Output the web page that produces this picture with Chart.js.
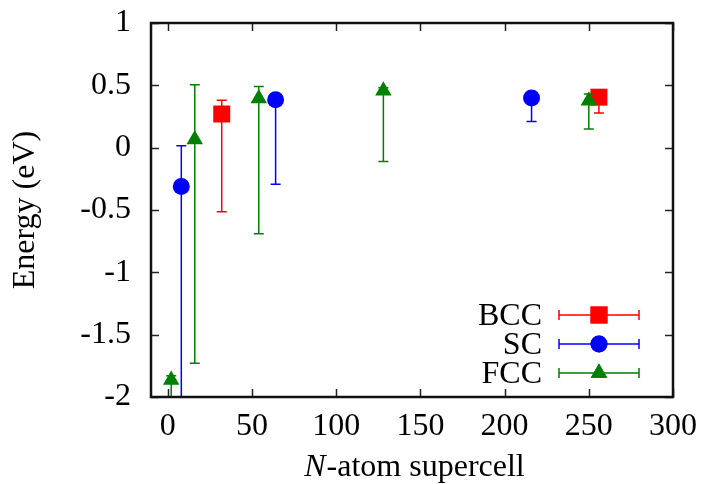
<!DOCTYPE html>
<html>
<head>
<meta charset="utf-8">
<script src="https://cdn.jsdelivr.net/npm/chart.js@4.4.1/dist/chart.umd.min.js"></script>
<style>
html,body{margin:0;padding:0;background:#fff;}
#c{display:block;}
</style>
</head>
<body>
<canvas id="c" width="703" height="484"></canvas>
<script>
// ---- data ----
const seriesNames = ["BCC", "SC", "FCC"];

const bccN    = [32, 256];
const bccE    = [0.27, 0.405];
const bccLow  = [-0.514, 0.278];
const bccHigh = [0.38, 0.43];

const scN    = [8, 64, 216];
const scE    = [-0.312, 0.384, 0.398];
const scLow  = [-2.3, -0.294, 0.21];
const scHigh = [0.016, 0.42, 0.42];

const fccN    = [2, 16, 54, 128, 250];
const fccE    = [-1.864, 0.066, 0.395, 0.457, 0.377];
const fccLow  = [-2.3, -1.73, -0.69, -0.11, 0.15];
const fccHigh = [-1.83, 0.504, 0.49, 0.48, 0.43];

const xTicks = [0, 50, 100, 150, 200, 250, 300];
const yTicks = [-2, -1.5, -1, -0.5, 0, 0.5, 1];
const xTitleItalic = "N";
const xTitleRest = "-atom supercell";
const yTitle = "Energy (eV)";

// ---- styling ----
const FONT = "'Liberation Serif', 'DejaVu Serif', serif";
const colors = { BCC: "#ff0000", SC: "#0000ff", FCC: "#008000" };
const styles = { BCC: "rect", SC: "circle", FCC: "triangle" };
const radii  = { BCC: 12, SC: 8.5, FCC: 9.5 };

function mk(name, xs, ys, lo, hi, order) {
  return {
    label: name,
    data: xs.map((x, i) => ({ x: x, y: ys[i], lo: lo[i], hi: hi[i] })),
    pointStyle: styles[name],
    pointRadius: radii[name],
    pointHoverRadius: radii[name],
    backgroundColor: colors[name],
    borderColor: colors[name],
    borderWidth: 0,
    showLine: false,
    order: order
  };
}

const errorBars = {
  id: "errorBars",
  beforeDatasetDraw(chart, args) {
    const ds = chart.data.datasets[args.index];
    const xs = chart.scales.x, ys = chart.scales.y, a = chart.chartArea;
    const ctx = chart.ctx;
    ctx.save();
    ctx.beginPath();
    ctx.rect(a.left, a.top, a.right - a.left, a.bottom - a.top);
    ctx.clip();
    ctx.strokeStyle = ds.borderColor;
    ctx.lineWidth = 1.5;
    ds.data.forEach(p => {
      const px = xs.getPixelForValue(p.x);
      const plo = ys.getPixelForValue(p.lo);
      const phi = ys.getPixelForValue(p.hi);
      ctx.beginPath();
      ctx.moveTo(px, plo); ctx.lineTo(px, phi);
      ctx.moveTo(px - 5, plo); ctx.lineTo(px + 5, plo);
      ctx.moveTo(px - 5, phi); ctx.lineTo(px + 5, phi);
      ctx.stroke();
    });
    ctx.restore();
  }
};

const frame = {
  id: "frame",
  afterDatasetsDraw(chart) {
    const ctx = chart.ctx, a = chart.chartArea;
    const xs = chart.scales.x, ys = chart.scales.y;
    ctx.save();
    ctx.strokeStyle = "#222";
    ctx.lineWidth = 1.5;
    const tl = 8;
    ctx.beginPath();
    xTicks.forEach(v => {
      const px = Math.round(xs.getPixelForValue(v)) + 0.5;
      ctx.moveTo(px, a.bottom); ctx.lineTo(px, a.bottom - tl);
      ctx.moveTo(px, a.top); ctx.lineTo(px, a.top + tl);
    });
    yTicks.forEach(v => {
      const py = Math.round(ys.getPixelForValue(v)) + 0.5;
      ctx.moveTo(a.left, py); ctx.lineTo(a.left + tl, py);
      ctx.moveTo(a.right, py); ctx.lineTo(a.right - tl, py);
    });
    ctx.stroke();
    ctx.strokeStyle = "#111";
    ctx.lineWidth = 2.5;
    ctx.strokeRect(a.left, a.top, a.right - a.left, a.bottom - a.top);
    ctx.restore();
  },
  afterDraw(chart) {
    const ctx = chart.ctx, a = chart.chartArea;
    // x-axis title with italic N
    ctx.save();
    ctx.fillStyle = "#000";
    ctx.textBaseline = "alphabetic";
    ctx.textAlign = "left";
    const fi = "italic 32px " + FONT, fr = "32px " + FONT;
    ctx.font = fi; const w1 = ctx.measureText(xTitleItalic).width;
    ctx.font = fr; const w2 = ctx.measureText(xTitleRest).width;
    const cx = (a.left + a.right) / 2 + 2;
    const sx = cx - (w1 + w2) / 2;
    ctx.font = fi; ctx.fillText(xTitleItalic, sx, a.bottom + 79);
    ctx.font = fr; ctx.fillText(xTitleRest, sx + w1 + 1, a.bottom + 79);
    ctx.restore();

    // legend, inside the plot at lower right
    const textX = a.right - 131;
    const x0 = a.right - 114, x1 = a.right - 34, xm = (x0 + x1) / 2;
    const rowY = [a.bottom - 82, a.bottom - 53, a.bottom - 24];
    ctx.save();
    seriesNames.forEach((name, i) => {
      const y = rowY[i];
      ctx.fillStyle = "#000";
      ctx.font = "32px " + FONT;
      ctx.textAlign = "right";
      ctx.textBaseline = "middle";
      ctx.fillText(name, textX, y + 2);
      ctx.strokeStyle = colors[name];
      ctx.lineWidth = 1.5;
      ctx.beginPath();
      ctx.moveTo(x0, y); ctx.lineTo(x1, y);
      ctx.moveTo(x0, y - 5); ctx.lineTo(x0, y + 5);
      ctx.moveTo(x1, y - 5); ctx.lineTo(x1, y + 5);
      ctx.stroke();
      ctx.fillStyle = colors[name];
      Chart.helpers.drawPoint(ctx, { pointStyle: styles[name], radius: radii[name], rotation: 0, borderWidth: 0 }, xm, y);
      ctx.fill();
    });
    ctx.restore();
  }
};

new Chart(document.getElementById("c"), {
  type: "scatter",
  data: {
    datasets: [
      mk("BCC", bccN, bccE, bccLow, bccHigh, 3),
      mk("SC", scN, scE, scLow, scHigh, 2),
      mk("FCC", fccN, fccE, fccLow, fccHigh, 1)
    ]
  },
  options: {
    responsive: false,
    animation: false,
    layout: { padding: { top: 23, right: 30, left: 0, bottom: 0 } },
    plugins: { legend: { display: false }, tooltip: { enabled: false } },
    scales: {
      x: {
        type: "linear",
        min: -10, max: 300,
        afterBuildTicks: s => { s.ticks = xTicks.map(v => ({ value: v })); },
        afterFit: s => { s.height = 87; s.paddingLeft = 0; s.paddingRight = 0; },
        grid: { display: false, drawTicks: false },
        border: { display: false },
        ticks: { color: "#000", font: { family: FONT, size: 32 }, padding: 10, maxRotation: 0, autoSkip: false,
                 callback: v => String(v) },
        title: { display: false }
      },
      y: {
        type: "linear",
        min: -2, max: 1,
        afterBuildTicks: s => { s.ticks = yTicks.map(v => ({ value: v })); },
        afterFit: s => { s.width = 151; s.paddingTop = 0; s.paddingBottom = 0; },
        grid: { display: false, drawTicks: false },
        border: { display: false },
        ticks: { color: "#000", font: { family: FONT, size: 32 }, padding: 20, autoSkip: false,
                 callback: v => String(v) },
        title: { display: true, text: yTitle, color: "#000", font: { family: FONT, size: 32 }, padding: { top: 6, bottom: 0 } }
      }
    }
  },
  plugins: [errorBars, frame]
});
</script>
</body>
</html>
